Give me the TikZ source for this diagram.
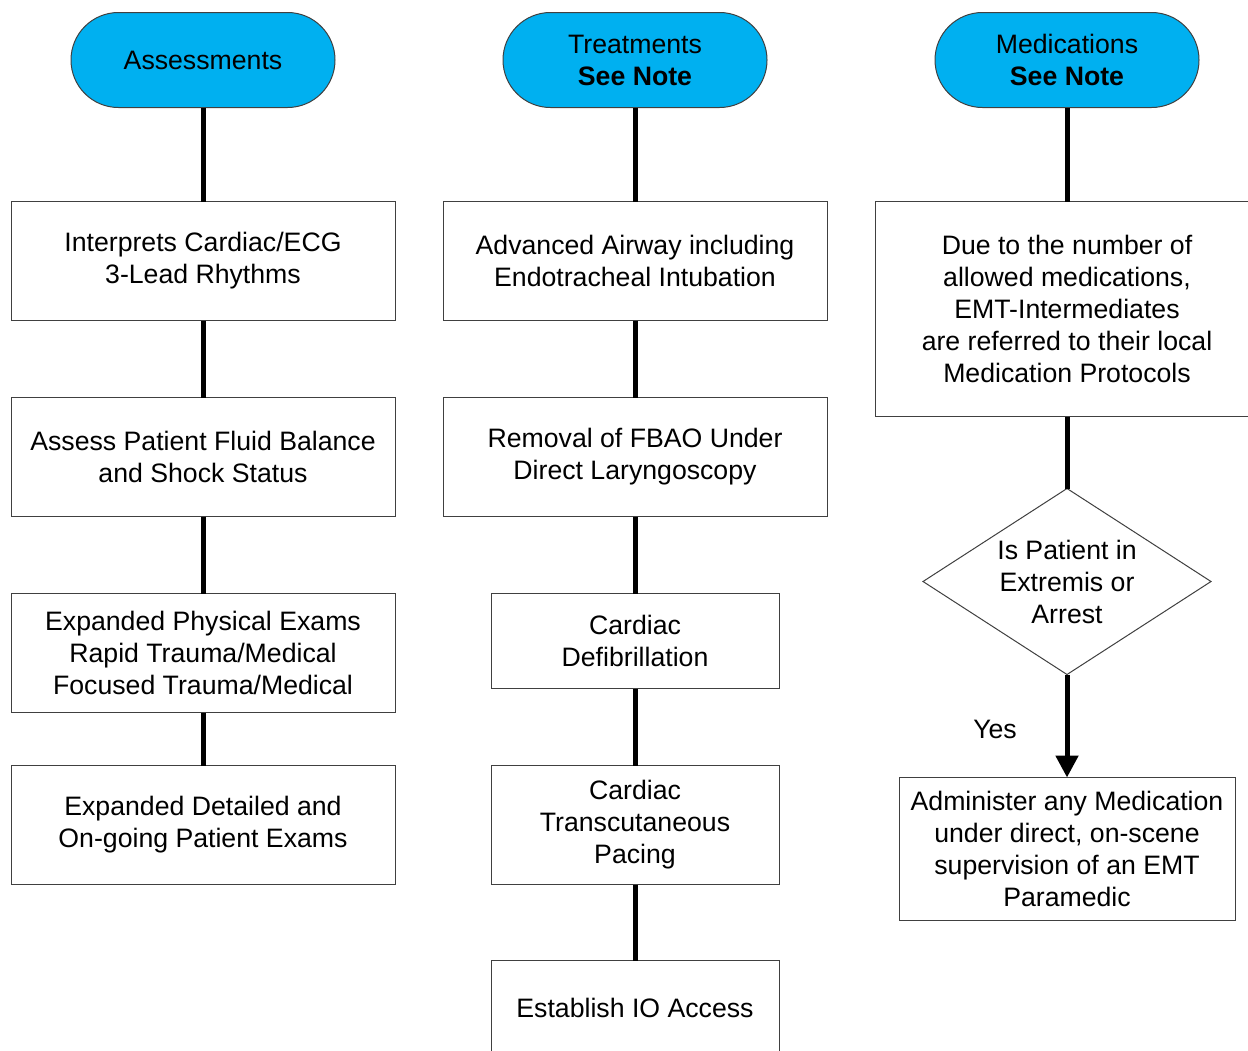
\documentclass[tikz,border=0pt]{standalone}
\usepackage{fontspec}
\setmainfont{Liberation Sans}
\usetikzlibrary{shapes.geometric, arrows.meta, positioning}
\definecolor{TermBlue}{RGB}{0, 176, 240}
\definecolor{EdgeGray}{RGB}{64, 64, 64}

\begin{document}
\begin{tikzpicture}[
        x=0.75pt, y=-0.75pt,
        font=\fontsize{20pt}{24pt}\selectfont,
        every node/.style={align=center, outer sep=0pt},
        termbox/.style={rectangle, draw=EdgeGray, fill=TermBlue, rounded corners=35.6pt, line width=0.75pt, inner sep=0pt, minimum width=198pt, minimum height=71.25pt},
        widebox/.style={rectangle, draw=EdgeGray, fill=white, line width=0.75pt, inner sep=0pt, minimum width=288pt, minimum height=89.25pt},
        narrowbox/.style={rectangle, draw=EdgeGray, fill=white, line width=0.75pt, inner sep=0pt, minimum width=216pt, minimum height=89.25pt},
        decbox/.style={diamond, draw=EdgeGray, fill=white, line width=0.75pt, aspect=1.55, inner sep=0pt, minimum width=216pt, minimum height=139.5pt},
        link/.style={draw=black, line width=3.75pt},
        arrow/.style={-{Triangle[length=16.5pt, width=16.5pt]}, draw=black, line width=3.75pt}
      ]
        \useasboundingbox (0,0) rectangle (1248,1050);
        \clip (0,0) rectangle (1248,1050);

        % Column 1: Assessments
        \node[termbox] (assess) at (203,60) {Assessments};
        \node[widebox, below=70.5pt of assess] (ecg) {Interprets Cardiac/ECG\\3-Lead Rhythms};
        \node[widebox, below=57.75pt of ecg] (fluid) {Assess Patient Fluid Balance\\and Shock Status};
        \node[widebox, below=57.75pt of fluid] (exams) {Expanded Physical Exams\\Rapid Trauma/Medical\\Focused Trauma/Medical};
        \node[widebox, below=39.75pt of exams] (detail) {Expanded Detailed and\\On-going Patient Exams};

        % Column 2: Treatments
        \node[termbox] (treat) at (635,60) {Treatments\\\textbf{See Note}};
        \node[widebox, below=70.5pt of treat] (airway) {Advanced Airway including\\Endotracheal Intubation};
        \node[widebox, below=57.75pt of airway] (fbao) {Removal of FBAO Under\\Direct Laryngoscopy};
        \node[narrowbox, minimum height=71.25pt, below=57.75pt of fbao] (defib) {Cardiac\\Defibrillation};
        \node[narrowbox, below=57.75pt of defib] (pacing) {Cardiac\\Transcutaneous\\Pacing};
        \node[narrowbox, minimum height=71.25pt, below=57pt of pacing] (io) {Establish IO Access};

        % Column 3: Medications
        \node[termbox] (meds) at (1067,60) {Medications\\\textbf{See Note}};
        \node[widebox, minimum height=161.25pt, below=70.5pt of meds] (protocol) {Due to the number of\\allowed medications,\\EMT-Intermediates\\are referred to their local\\Medication Protocols};
        \node[decbox, below=54pt of protocol] (extremis) {Is Patient in\\Extremis or\\Arrest};
        \node[rectangle, draw=EdgeGray, fill=white, line width=0.75pt, inner sep=0pt, minimum width=252pt, minimum height=107.25pt, below=77.25pt of extremis] (admin) {Administer any Medication\\under direct, on-scene\\supervision of an EMT\\Paramedic};
        \node (yes) at (995,729) {Yes};

        % Connections
        \draw[link] (assess) -- (ecg);
        \draw[link] (ecg) -- (fluid);
        \draw[link] (fluid) -- (exams);
        \draw[link] (exams) -- (detail);

        \draw[link] (treat) -- (airway);
        \draw[link] (airway) -- (fbao);
        \draw[link] (fbao) -- (defib);
        \draw[link] (defib) -- (pacing);
        \draw[link] (pacing) -- (io);

        \draw[link] (meds) -- (protocol);
        \draw[link] (protocol) -- (extremis);
        \draw[arrow] (extremis) -- (admin);
      \end{tikzpicture}
\end{document}
